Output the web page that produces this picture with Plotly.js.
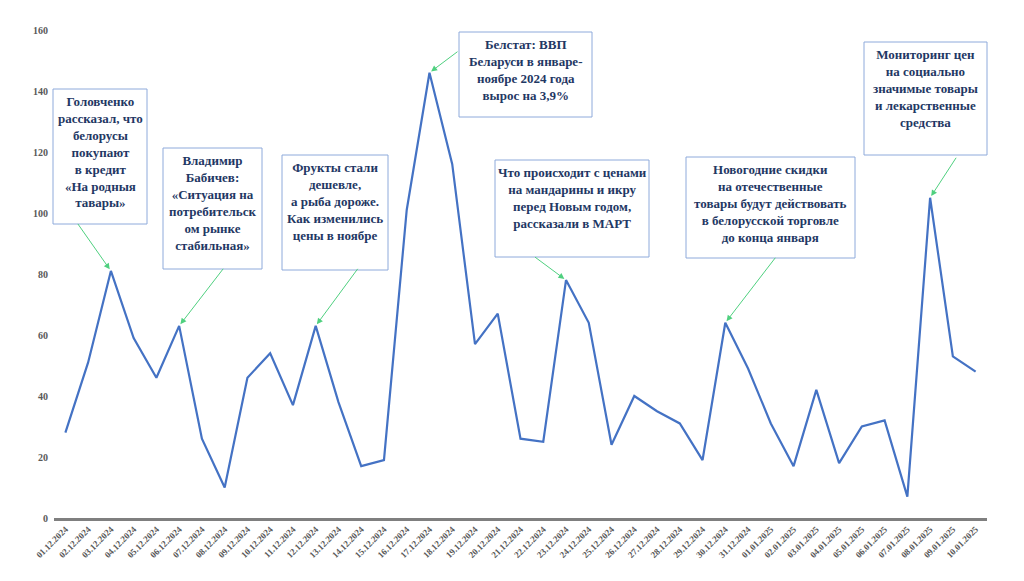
<!DOCTYPE html>
<html>
<head>
<meta charset="utf-8">
<script src="https://cdn.plot.ly/plotly-3.0.1.min.js"></script>
<style>html,body{margin:0;padding:0;background:#fff;}#chart{width:1024px;height:581px;}</style>
</head>
<body>
<div id="chart"></div>
<script>
const dates = ["01.12.2024","02.12.2024","03.12.2024","04.12.2024","05.12.2024","06.12.2024","07.12.2024","08.12.2024","09.12.2024","10.12.2024","11.12.2024","12.12.2024","13.12.2024","14.12.2024","15.12.2024","16.12.2024","17.12.2024","18.12.2024","19.12.2024","20.12.2024","21.12.2024","22.12.2024","23.12.2024","24.12.2024","25.12.2024","26.12.2024","27.12.2024","28.12.2024","29.12.2024","30.12.2024","31.12.2024","01.01.2025","02.01.2025","03.01.2025","04.01.2025","05.01.2025","06.01.2025","07.01.2025","08.01.2025","09.01.2025","10.01.2025"];
const values = [28,51,81,59,46,63,26,10,46,54,37,63,38,17,19,101,146,116,57,67,26,25,78,64,24,40,35,31,19,64,49,31,17,42,18,30,32,7,105,53,48];
const yTicks = [0,20,40,60,80,100,120,140,160];

const noteTexts = [
  "Головченко<br>рассказал, что<br>белорусы<br>покупают<br>в кредит<br>«На родныя<br>тавары»",
  "Владимир<br>Бабичев:<br>«Ситуация на<br>потребительск<br>ом рынке<br>стабильная»",
  "Фрукты стали<br>дешевле,<br>а рыба дороже.<br>Как изменились<br>цены в ноябре",
  "Белстат: ВВП<br>Беларуси в январе-<br>ноябре 2024 года<br>вырос на 3,9%",
  "Что происходит с ценами<br>на мандарины и икру<br>перед Новым годом,<br>рассказали в МАРТ",
  "Новогодние скидки<br>на отечественные<br>товары будут действовать<br>в белорусской торговле<br>до конца января",
  "Мониторинг цен<br>на социально<br>значимые товары<br>и лекарственные<br>средства"
];
const noteTargets = ["03.12.2024","06.12.2024","12.12.2024","17.12.2024","23.12.2024","30.12.2024","08.01.2025"];

// layout (pixel) geometry of boxes: [left, top, width, height]
const boxes = [[53,89,94,135],[163,148,99,121],[282,155,106,115],[459,32,133,85],[495,160,154,97],[686,157,169,101],[864,42,123,113]];
// arrow tail offsets in px relative to target point
const tails = [[-33,-47],[44,-57],[42,-57],[28,-21],[-31,-23],[50,-65],[26,-40]];

const M = {l:54, r:37, t:30, b:63};
const W = 1024 - M.l - M.r, H = 581 - M.t - M.b;
const px = v => (v - M.l) / W;
const py = v => (M.t + H - v) / H;

const shapes = [];
const annotations = [];
noteTexts.forEach((t, i) => {
  const [l, tp, w, h] = boxes[i];
  shapes.push({
    type:'rect', xref:'paper', yref:'paper', layer:'above',
    x0:px(l), x1:px(l+w), y0:py(tp+h), y1:py(tp),
    line:{color:'#8eaadb', width:1}, fillcolor:'#ffffff'
  });
  annotations.push({
    xref:'paper', yref:'paper', x:px(l + w/2), y:py(tp + 4), xanchor:'center', yanchor:'top',
    text:t, showarrow:false, align:'center', borderpad:0,
    font:{family:'Liberation Serif', size:13, color:'#1f3864', weight:'bold'}
  });
});
noteTargets.forEach((d, i) => {
  const idx = dates.indexOf(d);
  annotations.push({
    xref:'x', yref:'y', x:idx, y:values[idx], ax:tails[i][0], ay:tails[i][1],
    text:'', showarrow:true, arrowhead:2, arrowsize:1.2, arrowwidth:1,
    arrowcolor:'#4fd07f', standoff:2, borderpad:0, borderwidth:0
  });
});

const trace = {
  x: dates.map((d,i)=>i), y: values, type:'scatter', mode:'lines',
  line:{color:'#4472c4', width:2.2}, hoverinfo:'skip'
};

const layout = {
  width:1024, height:581, margin:M, showlegend:false,
  paper_bgcolor:'#ffffff', plot_bgcolor:'#ffffff',
  xaxis:{
    range:[-0.5, dates.length-0.5], tickmode:'array',
    tickvals: dates.map((d,i)=>i), ticktext: dates, tickangle:-45,
    tickfont:{family:'Liberation Serif', size:9, color:'#595959', weight:'bold'},
    showline:true, linecolor:'#7f7f7f', linewidth:2.5, showgrid:false, zeroline:false, ticks:''
  },
  yaxis:{
    range:[0,160], tickmode:'array', tickvals:yTicks, ticktext:yTicks.map(String),
    tickfont:{family:'Liberation Serif', size:10, color:'#595959', weight:'bold'},
    showline:false, showgrid:false, zeroline:false, ticks:'', ticklabelstandoff:5
  },
  shapes: shapes,
  annotations: annotations
};

Plotly.newPlot('chart', [trace], layout, {displayModeBar:false, staticPlot:true});
</script>
</body>
</html>
